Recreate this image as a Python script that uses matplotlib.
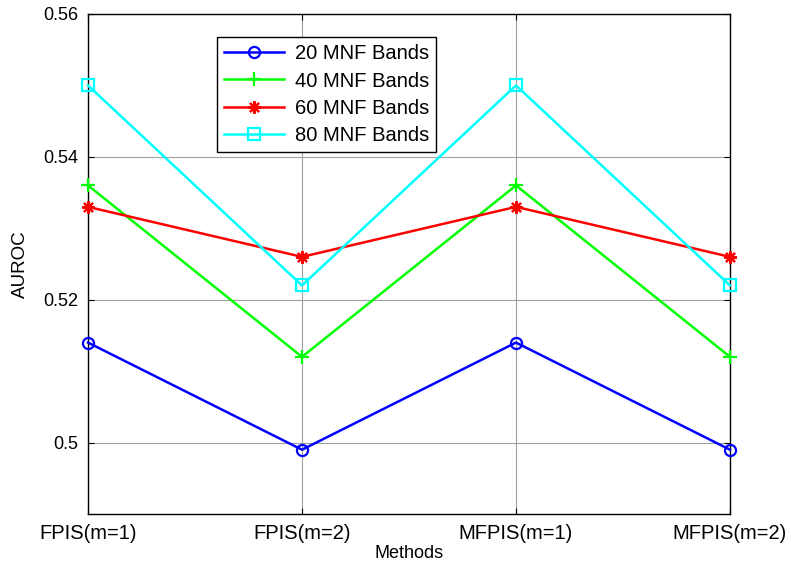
import matplotlib
matplotlib.use("Agg")
import matplotlib.pyplot as plt

plt.rcParams['font.family'] = ['Liberation Sans', 'DejaVu Sans']

methods = ["FPIS(m=1)", "FPIS(m=2)", "MFPIS(m=1)", "MFPIS(m=2)"]
band20 = [0.514, 0.499, 0.514, 0.499]
band40 = [0.536, 0.512, 0.536, 0.512]
band60 = [0.533, 0.526, 0.533, 0.526]
band80 = [0.550, 0.522, 0.550, 0.522]
labels = ["20 MNF Bands", "40 MNF Bands", "60 MNF Bands", "80 MNF Bands"]

fig = plt.figure(figsize=(7.91, 5.69), dpi=100)
L, R, T, B = 88, 730, 14, 514
ax = fig.add_axes([L/791, 1-B/569, (R-L)/791, (B-T)/569])
x = list(range(len(methods)))

ax.plot(x, band20, color='#0000ff', lw=1.8, marker='o', ms=8, mfc='none', mew=1.6, label=labels[0], clip_on=False, zorder=3)
ax.plot(x, band40, color='#00ff00', lw=1.8, marker='+', ms=10, mew=1.6, label=labels[1], clip_on=False, zorder=3)
ax.plot(x, band60, color='#ff0000', lw=1.8, marker=(8, 2, 0), ms=9, mew=1.6, label=labels[2], clip_on=False, zorder=3)
ax.plot(x, band80, color='#00ffff', lw=1.8, marker='s', ms=8, mfc='none', mew=1.6, label=labels[3], clip_on=False, zorder=3)

ax.set_xlim(0, 3)
ax.set_ylim(0.49, 0.56)
ax.set_xticks(x)
ax.set_xticklabels(methods, fontsize=14.5)
ax.set_yticks([0.5, 0.52, 0.54, 0.56])
ax.set_yticklabels(["0.5", "0.52", "0.54", "0.56"], fontsize=13)
ax.grid(True, color='#a0a0a0', lw=0.8)
ax.tick_params(direction='in', length=4, pad=7, top=True, right=True)
for s in ax.spines.values():
    s.set_linewidth(1.0)
ax.set_xlabel("Methods", fontsize=13, labelpad=2)
ax.set_ylabel("AUROC", fontsize=13.5, labelpad=10)

leg = ax.legend(loc='upper left', bbox_to_anchor=((217-L)/(R-L), 1-(37-T)/(B-T)),
                fontsize=14.5, fancybox=False, framealpha=1, edgecolor='black',
                handlelength=3.0, handletextpad=0.5, borderpad=0.35, labelspacing=0.42,
                borderaxespad=0)
leg.get_frame().set_linewidth(1.0)

fig.savefig("out.png", dpi=100)
